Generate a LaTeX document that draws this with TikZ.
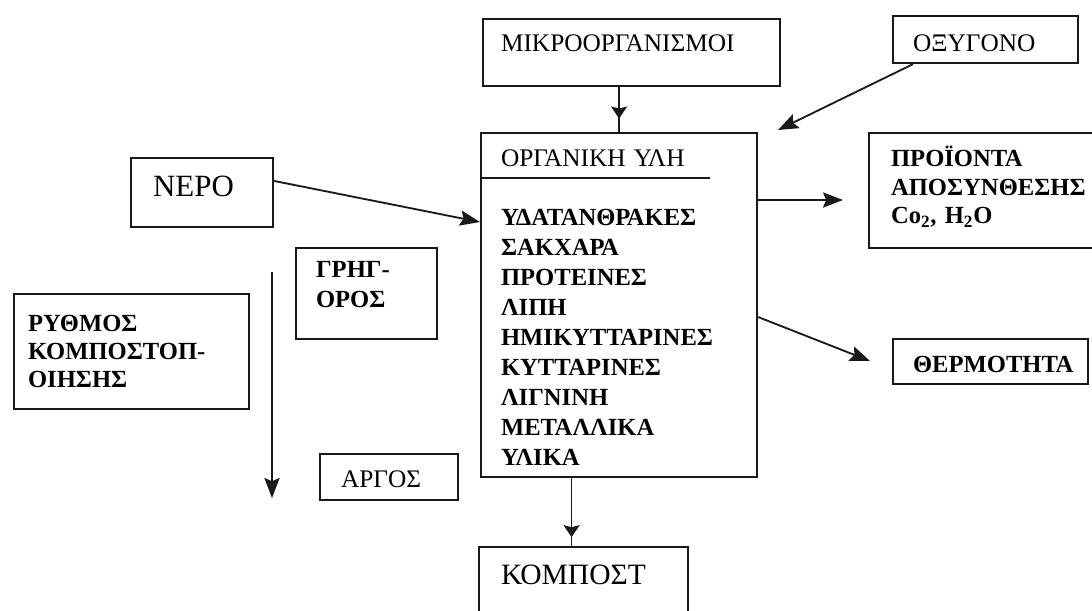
\documentclass[tikz,border=0pt]{standalone}
\usepackage{fontspec}
\setmainfont{Liberation Serif}
\usepackage{tikz}
\usetikzlibrary{arrows.meta,decorations.markings}

\begin{document}
\begin{tikzpicture}[x=0.025cm, y=-0.025cm,
    box/.style={rectangle, draw=black!90, line width=1.5pt, anchor=north west, inner ysep=0pt, align=left},
    arr/.style={-{Stealth[length=0.5cm, width=0.38cm, inset=0.08cm]}, line width=1.3pt, black!90},
    midarrow/.style={line width=1.3pt, black!90, postaction={decorate},
        decoration={markings, mark=at position #1 with {\arrow{Stealth[length=0.3cm, width=0.4cm, inset=0.05cm]}}}}]
    \useasboundingbox (0,0) rectangle (1092,611);

    % Microorganisms box - top middle
    \node [box, font=\fontsize{18}{21.3}\selectfont, text width=6.525cm, inner xsep=0.45cm, text height=0.8cm, text depth=0.875cm] (mikro) at (482,18) {
        ΜΙΚΡΟΟΡΓΑΝΙΣΜΟΙ
    };

    % Oxygen box - top right
    \node [box, font=\fontsize{18}{21.3}\selectfont, text width=3.625cm, inner xsep=0.5cm, text height=0.875cm, text depth=0.3cm] (oxy) at (892,15) {
        ΟΞΥΓΟΝΟ
    };

    % Organic matter box - centre
    \node [box, font=\fontsize{17.5}{21.34}\selectfont, text width=5.9cm, inner xsep=0.5cm, text height=0.825cm, text depth=7.775cm] (main) at (480,132) {
        {\fontsize{18}{21.34}\selectfont ΟΡΓΑΝΙΚΗ ΥΛΗ}\\[0.725cm]
        \bfseries
        ΥΔΑΤΑΝΘΡΑΚΕΣ\\
        ΣΑΚΧΑΡΑ\\
        ΠΡΟΤΕΙΝΕΣ\\
        ΛΙΠΗ\\
        ΗΜΙΚΥΤΤΑΡΙΝΕΣ\\
        ΚΥΤΤΑΡΙΝΕΣ\\
        ΛΙΓΝΙΝΗ\\
        ΜΕΤΑΛΛΙΚΑ\\
        ΥΛΙΚΑ
    };
    \draw [line width=1.5pt, black!90] ([yshift=-1.15cm]main.north west) -- ++(230,0);

    % Water box - left
    \node [box, font=\fontsize{22}{26}\selectfont, text width=2.45cm, inner xsep=0.55cm, text height=0.95cm, text depth=0.775cm] (nero) at (130,157) {
        ΝΕΡΟ
    };

    % Fast box - left of centre
    \node [box, font=\fontsize{17.5}{21.34}\selectfont\bfseries, text width=2.525cm, inner xsep=0.5cm, text height=0.725cm, text depth=1.55cm] (grig) at (295,247) {
        ΓΡΗΓ-\\ΟΡΟΣ
    };

    % Composting rate box - far left
    \node [box, font=\fontsize{17.5}{19.9}\selectfont\bfseries, text width=5.175cm, inner xsep=0.35cm, text height=0.925cm, text depth=1.95cm] (rythmos) at (13,293) {
        ΡΥΘΜΟΣ\\ΚΟΜΠΟΣΤΟΠ-\\ΟΙΗΣΗΣ
    };

    % Slow box - bottom left
    \node [box, font=\fontsize{18}{21.3}\selectfont, text width=2.4cm, inner xsep=0.525cm, text height=0.825cm, text depth=0.325cm] (argos) at (319,453) {
        ΑΡΓΟΣ
    };

    % Compost box - bottom
    \node [box, font=\fontsize{21}{25}\selectfont, text width=4.125cm, inner xsep=0.55cm, text height=0.925cm, text depth=0.925cm] (kompost) at (478,546) {
        ΚΟΜΠΟΣΤ
    };

    % Decomposition products box - right
    \node [box, font=\fontsize{17.5}{20.6}\selectfont\bfseries, text width=5.15cm, inner xsep=0.55cm, text height=0.825cm, text depth=2.05cm] (prod) at (868,132) {
        ΠΡΟΪΟΝΤΑ\\ΑΠΟΣΥΝΘΕΣΗΣ\\Co\textsubscript{2}, H\textsubscript{2}O
    };

    % Heat box - right
    \node [box, font=\fontsize{17.5}{21.3}\selectfont\bfseries, text width=3.875cm, inner xsep=0.5cm, text height=0.825cm, text depth=0.3cm] (therm) at (892,338) {
        ΘΕΡΜΟΤΗΤΑ
    };

    % Free arrow ends
    \coordinate (oxytip) at (778,130);
    \coordinate (prodtip) at (843,200);
    \coordinate (thermtip) at (870,361);
    \coordinate (fast) at (272,272);
    \coordinate (slow) at (272,498);
    \coordinate (kin) at ([xshift=-0.3cm]kompost.north);

    % Inputs and outputs
    \draw [midarrow=0.7] (main.north |- mikro.south) -- (main.north);
    \draw [arr] ([xshift=0.525cm]oxy.south west) -- (oxytip);
    \draw [arr] ([yshift=0.29cm]nero.east) -- ([yshift=-2.25cm]main.north west);
    \draw [arr] ([yshift=-1.7cm]main.north east) -- (prodtip);
    \draw [arr] ([yshift=-4.625cm]main.north east) -- (thermtip);
    \draw [midarrow=0.87] (kin |- main.south) -- (kin);
    \draw [arr] (fast) -- (slow);

\end{tikzpicture}
\end{document}
